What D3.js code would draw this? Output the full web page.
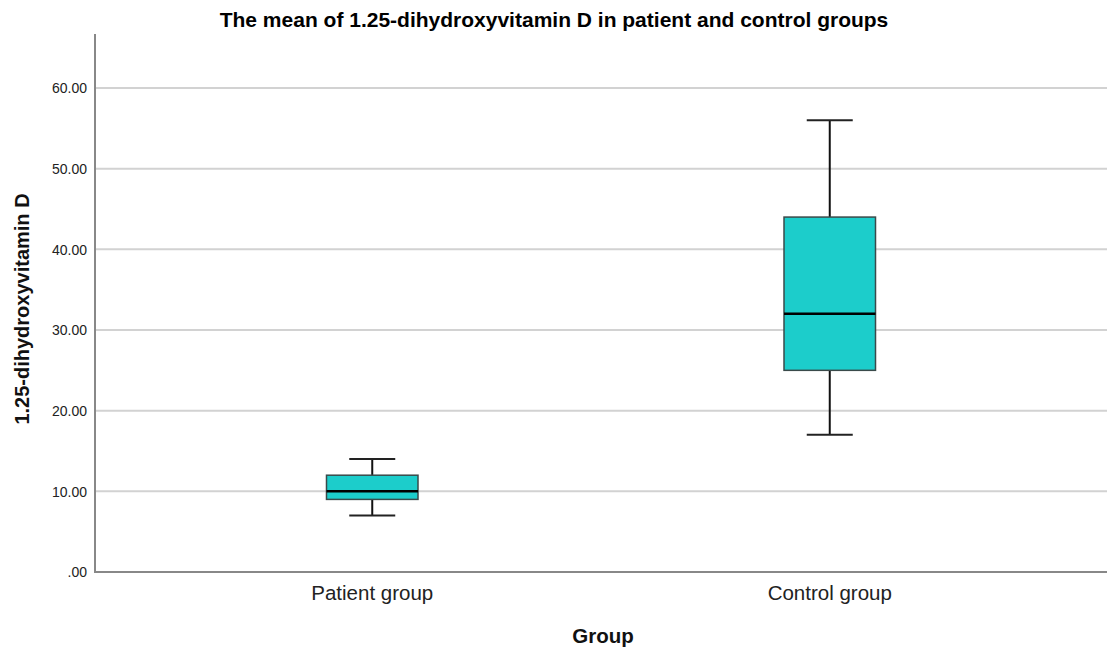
<!DOCTYPE html>
<html><head><meta charset="utf-8">
<script src="https://cdn.jsdelivr.net/npm/d3@7"></script>
<style>body{margin:0;background:#fff;} text{font-family:"Liberation Sans",Arial,sans-serif;}</style>
</head><body>
<svg id="c" width="1107" height="648"></svg>
<script>
const categories = ["Patient group", "Control group"];
const whiskerLow = [7, 17];
const q1 = [9, 25];
const median = [10, 32];
const q3 = [12, 44];
const whiskerHigh = [14, 56];
const yTicks = [0, 10, 20, 30, 40, 50, 60];

const svg = d3.select("#c");
const pLeft = 95, pRight = 1107, pTop = 34, pBottom = 572;
const y = d3.scaleLinear().domain([0, 60]).range([pBottom, 88]);
const x = d3.scalePoint().domain(categories).range([pLeft, pRight]).padding(0.606);

// gridlines
svg.append("g").selectAll("line").data(yTicks.filter(d => d > 0)).join("line")
  .attr("x1", pLeft).attr("x2", pRight)
  .attr("y1", d => y(d)).attr("y2", d => y(d))
  .attr("stroke", "#d2d2d2").attr("stroke-width", 2);

// y tick labels
svg.append("g").selectAll("text").data(yTicks).join("text")
  .attr("x", 87).attr("y", d => y(d)).attr("dy", "0.38em")
  .attr("text-anchor", "end").attr("font-size", 14).attr("fill", "#222")
  .text(d => d === 0 ? ".00" : d3.format(".2f")(d));

// axes lines
svg.append("line").attr("x1", pLeft).attr("x2", pLeft).attr("y1", pTop).attr("y2", pBottom)
  .attr("stroke", "#888").attr("stroke-width", 2);
svg.append("line").attr("x1", pLeft - 1).attr("x2", pRight).attr("y1", pBottom).attr("y2", pBottom)
  .attr("stroke", "#888").attr("stroke-width", 2);

const boxW = 91.5, capW = 46;
const g = svg.append("g");
categories.forEach((c, i) => {
  const cx = x(c);
  g.append("line").attr("x1", cx).attr("x2", cx).attr("y1", y(whiskerHigh[i])).attr("y2", y(q3[i]))
    .attr("stroke", "#111").attr("stroke-width", 2);
  g.append("line").attr("x1", cx).attr("x2", cx).attr("y1", y(q1[i])).attr("y2", y(whiskerLow[i]))
    .attr("stroke", "#111").attr("stroke-width", 2);
  g.append("line").attr("x1", cx - capW / 2).attr("x2", cx + capW / 2)
    .attr("y1", y(whiskerHigh[i])).attr("y2", y(whiskerHigh[i])).attr("stroke", "#222").attr("stroke-width", 2);
  g.append("line").attr("x1", cx - capW / 2).attr("x2", cx + capW / 2)
    .attr("y1", y(whiskerLow[i])).attr("y2", y(whiskerLow[i])).attr("stroke", "#222").attr("stroke-width", 2);
  g.append("rect").attr("x", cx - boxW / 2).attr("width", boxW)
    .attr("y", y(q3[i])).attr("height", y(q1[i]) - y(q3[i]))
    .attr("fill", "#1ccdcb").attr("stroke", "#3a4a4a").attr("stroke-width", 1.5);
  g.append("line").attr("x1", cx - boxW / 2).attr("x2", cx + boxW / 2)
    .attr("y1", y(median[i])).attr("y2", y(median[i])).attr("stroke", "#000").attr("stroke-width", 2.5);
});

// category labels
svg.append("g").selectAll("text").data(categories).join("text")
  .attr("x", d => x(d)).attr("y", 600).attr("text-anchor", "middle")
  .attr("font-size", 20.5).attr("fill", "#222").text(d => d);

// titles
svg.append("text").attr("x", 554).attr("y", 27).attr("text-anchor", "middle")
  .attr("font-size", 21).attr("font-weight", "bold").attr("fill", "#000")
  .text("The mean of 1.25-dihydroxyvitamin D in patient and control groups");
svg.append("text").attr("x", 603).attr("y", 643).attr("text-anchor", "middle")
  .attr("font-size", 20.5).attr("font-weight", "bold").attr("fill", "#111").text("Group");
svg.append("text").attr("transform", `translate(29,${(pTop + pBottom) / 2 + 6}) rotate(-90)`)
  .attr("text-anchor", "middle").attr("font-size", 20).attr("font-weight", "bold").attr("fill", "#111")
  .text("1.25-dihydroxyvitamin D");
</script>
</body></html>
